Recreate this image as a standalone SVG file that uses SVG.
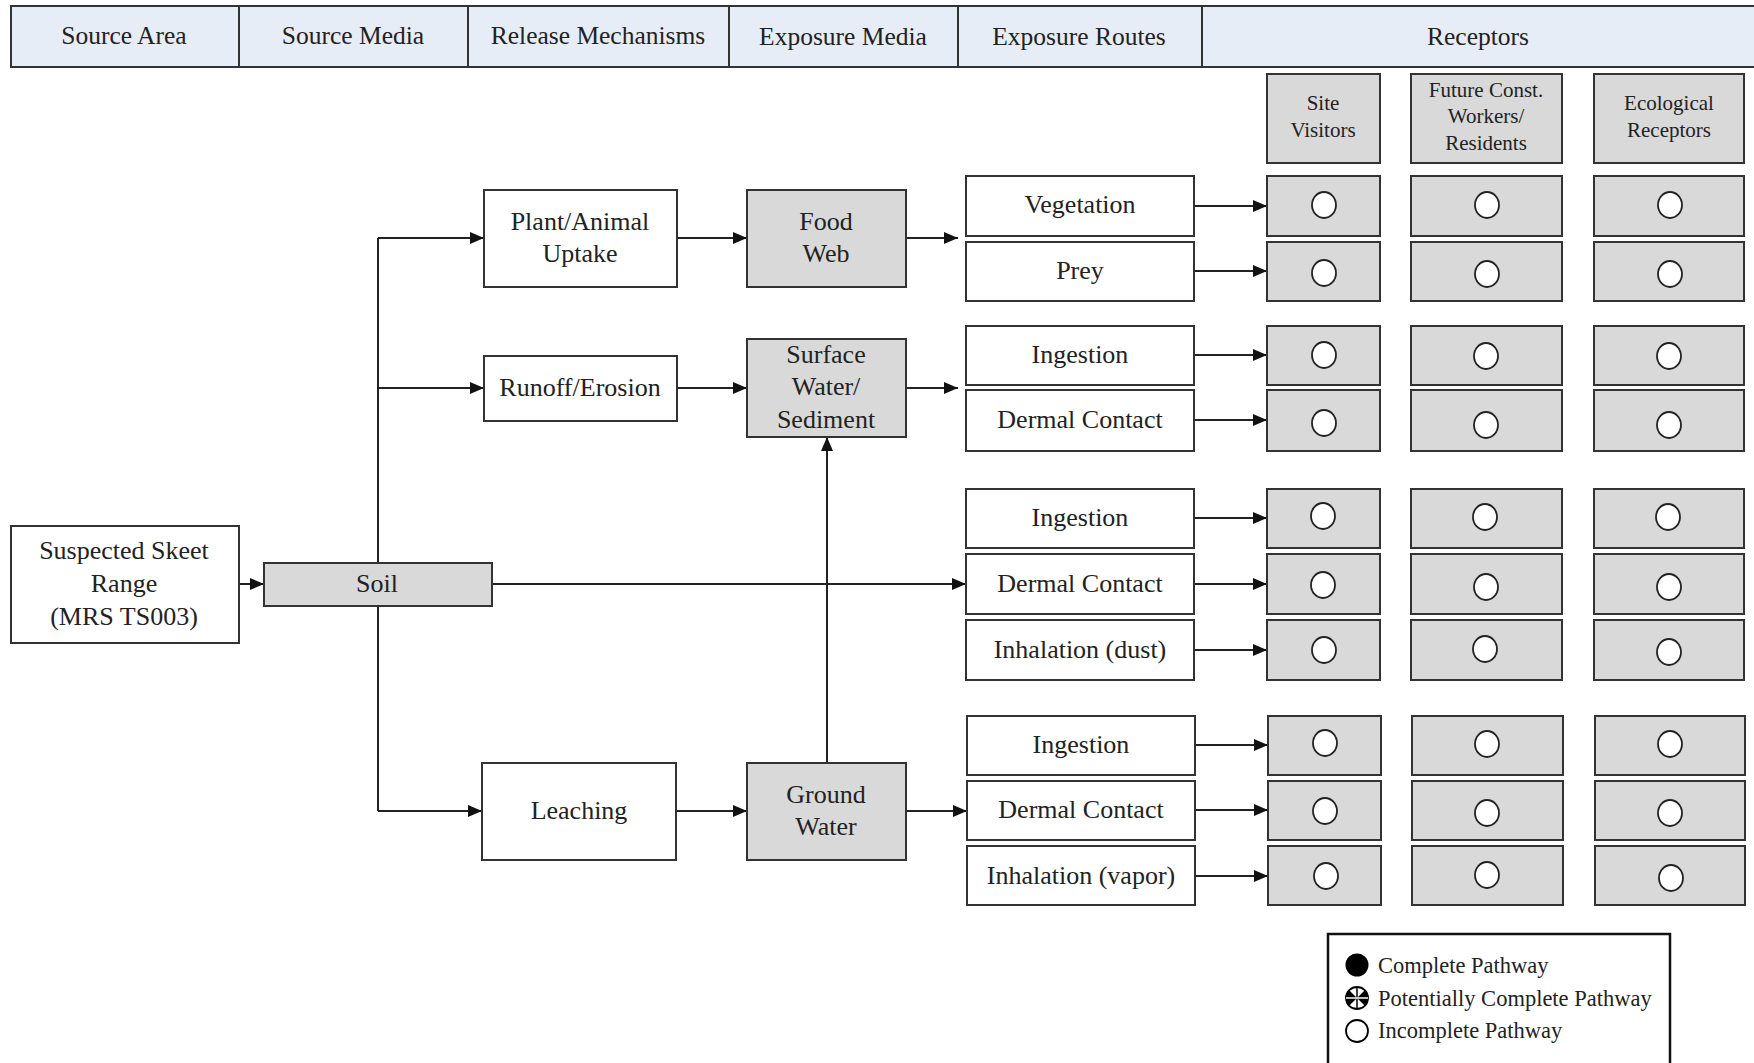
<svg xmlns="http://www.w3.org/2000/svg" width="1754" height="1063" viewBox="0 0 1754 1063">
<style>
text{font-family:"Liberation Serif","Times New Roman",serif;fill:#222;text-anchor:middle;dominant-baseline:central}
.hd{fill:#e7edf7;stroke:#333;stroke-width:2}
.w{fill:#fff;stroke:#333;stroke-width:2}
.g{fill:#d9d9d9;stroke:#333;stroke-width:2}
.t{font-size:26px}
.th{font-size:25.5px}
.tr{font-size:21px}
.tl{font-size:22.5px;text-anchor:start}
.c{fill:#fff;stroke:#222;stroke-width:1.8}
.ln{stroke:#222;stroke-width:2;fill:none}
</style>
<defs>
<marker id="ah" viewBox="0 0 14 12" refX="14" refY="6" markerWidth="14" markerHeight="12" markerUnits="userSpaceOnUse" orient="auto">
<path d="M0,0 L14,6 L0,12 Z" fill="#111"/>
</marker>
</defs>
<rect width="1754" height="1063" fill="#fff"/>

<g id="header">
<rect class="hd" x="11" y="6" width="228" height="61"/>
<rect class="hd" x="239" y="6" width="229" height="61"/>
<rect class="hd" x="468" y="6" width="261" height="61"/>
<rect class="hd" x="729" y="6" width="229" height="61"/>
<rect class="hd" x="958" y="6" width="244" height="61"/>
<rect class="hd" x="1202" y="6" width="560" height="61"/>
<text class="th" x="124" y="35">Source Area</text>
<text class="th" x="353" y="35">Source Media</text>
<text class="th" x="598" y="35">Release Mechanisms</text>
<text class="th" x="843" y="36">Exposure Media</text>
<text class="th" x="1079" y="36">Exposure Routes</text>
<text class="th" x="1478" y="36">Receptors</text>
</g>

<g id="receptor-headers">
<g id="rh-site"><rect class="g" x="1267" y="74" width="113" height="89"/><text class="tr" x="1323" y="103">Site</text><text class="tr" x="1323" y="130">Visitors</text></g>
<g id="rh-future"><rect class="g" x="1411" y="74" width="151" height="89"/><text class="tr" x="1486" y="90">Future Const.</text><text class="tr" x="1486" y="116">Workers/</text><text class="tr" x="1486" y="143">Residents</text></g>
<g id="rh-eco"><rect class="g" x="1594" y="74" width="150" height="89"/><text class="tr" x="1669" y="103">Ecological</text><text class="tr" x="1669" y="130">Receptors</text></g>
</g>

<g id="connectors" class="ln">
<line x1="239" y1="584" x2="264" y2="584" marker-end="url(#ah)"/>
<line x1="378" y1="238" x2="378" y2="811"/>
<line x1="378" y1="238" x2="484" y2="238" marker-end="url(#ah)"/>
<line x1="378" y1="388" x2="484" y2="388" marker-end="url(#ah)"/>
<line x1="378" y1="811" x2="482" y2="811" marker-end="url(#ah)"/>
<line x1="677" y1="238" x2="747" y2="238" marker-end="url(#ah)"/>
<line x1="677" y1="388" x2="747" y2="388" marker-end="url(#ah)"/>
<line x1="676" y1="811" x2="747" y2="811" marker-end="url(#ah)"/>
<line x1="906" y1="238" x2="958" y2="238" marker-end="url(#ah)"/>
<line x1="906" y1="388" x2="958" y2="388" marker-end="url(#ah)"/>
<line x1="906" y1="811" x2="967" y2="811" marker-end="url(#ah)"/>
<line x1="492" y1="584" x2="966" y2="584" marker-end="url(#ah)"/>
<line x1="827" y1="763" x2="827" y2="437" marker-end="url(#ah)"/>
<line x1="1194" y1="206" x2="1267" y2="206" marker-end="url(#ah)"/>
<line x1="1194" y1="271" x2="1267" y2="271" marker-end="url(#ah)"/>
<line x1="1194" y1="355" x2="1267" y2="355" marker-end="url(#ah)"/>
<line x1="1194" y1="420" x2="1267" y2="420" marker-end="url(#ah)"/>
<line x1="1194" y1="518" x2="1267" y2="518" marker-end="url(#ah)"/>
<line x1="1194" y1="584" x2="1267" y2="584" marker-end="url(#ah)"/>
<line x1="1194" y1="650" x2="1267" y2="650" marker-end="url(#ah)"/>
<line x1="1195" y1="745" x2="1268" y2="745" marker-end="url(#ah)"/>
<line x1="1195" y1="810" x2="1268" y2="810" marker-end="url(#ah)"/>
<line x1="1195" y1="876" x2="1268" y2="876" marker-end="url(#ah)"/>
</g>

<g id="source-area"><rect class="w" x="11" y="526" width="228" height="117"/><text class="t" x="124" y="550">Suspected Skeet</text><text class="t" x="124" y="583">Range</text><text class="t" x="124" y="616">(MRS TS003)</text></g>
<g id="soil"><rect class="g" x="264" y="563" width="228" height="43"/><text class="t" x="377" y="583">Soil</text></g>
<g id="plant-uptake"><rect class="w" x="484" y="190" width="193" height="97"/><text class="t" x="580" y="221">Plant/Animal</text><text class="t" x="580" y="253">Uptake</text></g>
<g id="runoff"><rect class="w" x="484" y="356" width="193" height="65"/><text class="t" x="580" y="387">Runoff/Erosion</text></g>
<g id="leaching"><rect class="w" x="482" y="763" width="194" height="97"/><text class="t" x="579" y="810">Leaching</text></g>
<g id="food-web"><rect class="g" x="747" y="190" width="159" height="97"/><text class="t" x="826" y="221">Food</text><text class="t" x="826" y="253">Web</text></g>
<g id="surface-water"><rect class="g" x="747" y="339" width="159" height="98"/><text class="t" x="826" y="354">Surface</text><text class="t" x="826" y="386">Water/</text><text class="t" x="826" y="419">Sediment</text></g>
<g id="ground-water"><rect class="g" x="747" y="763" width="159" height="97"/><text class="t" x="826" y="794">Ground</text><text class="t" x="826" y="826">Water</text></g>

<g id="routes">
<g id="r-veg"><rect class="w" x="966" y="176" width="228" height="60"/><text class="t" x="1080" y="204">Vegetation</text></g>
<g id="r-prey"><rect class="w" x="966" y="242" width="228" height="59"/><text class="t" x="1080" y="270">Prey</text></g>
<g id="r-sw-ing"><rect class="w" x="966" y="326" width="228" height="59"/><text class="t" x="1080" y="354">Ingestion</text></g>
<g id="r-sw-derm"><rect class="w" x="966" y="390" width="228" height="61"/><text class="t" x="1080" y="419">Dermal Contact</text></g>
<g id="r-s-ing"><rect class="w" x="966" y="489" width="228" height="59"/><text class="t" x="1080" y="517">Ingestion</text></g>
<g id="r-s-derm"><rect class="w" x="966" y="554" width="228" height="60"/><text class="t" x="1080" y="583">Dermal Contact</text></g>
<g id="r-s-inh"><rect class="w" x="966" y="620" width="228" height="60"/><text class="t" x="1080" y="649">Inhalation (dust)</text></g>
<g id="r-gw-ing"><rect class="w" x="967" y="716" width="228" height="59"/><text class="t" x="1081" y="744">Ingestion</text></g>
<g id="r-gw-derm"><rect class="w" x="967" y="781" width="228" height="59"/><text class="t" x="1081" y="809">Dermal Contact</text></g>
<g id="r-gw-inh"><rect class="w" x="967" y="846" width="228" height="59"/><text class="t" x="1081" y="875">Inhalation (vapor)</text></g>
</g>

<g id="receptor-cells">
<g id="row1"><rect class="g" x="1267" y="176" width="113" height="60"/><rect class="g" x="1411" y="176" width="151" height="60"/><rect class="g" x="1594" y="176" width="150" height="60"/><ellipse class="c" cx="1324" cy="205" rx="12" ry="13"/><ellipse class="c" cx="1487" cy="205" rx="12" ry="13"/><ellipse class="c" cx="1670" cy="205" rx="12" ry="13"/></g>
<g id="row2"><rect class="g" x="1267" y="242" width="113" height="59"/><rect class="g" x="1411" y="242" width="151" height="59"/><rect class="g" x="1594" y="242" width="150" height="59"/><ellipse class="c" cx="1324" cy="273" rx="12" ry="13"/><ellipse class="c" cx="1487" cy="274" rx="12" ry="13"/><ellipse class="c" cx="1670" cy="274" rx="12" ry="13"/></g>
<g id="row3"><rect class="g" x="1267" y="326" width="113" height="59"/><rect class="g" x="1411" y="326" width="151" height="59"/><rect class="g" x="1594" y="326" width="150" height="59"/><ellipse class="c" cx="1324" cy="355" rx="12" ry="13"/><ellipse class="c" cx="1486" cy="356" rx="12" ry="13"/><ellipse class="c" cx="1669" cy="356" rx="12" ry="13"/></g>
<g id="row4"><rect class="g" x="1267" y="390" width="113" height="61"/><rect class="g" x="1411" y="390" width="151" height="61"/><rect class="g" x="1594" y="390" width="150" height="61"/><ellipse class="c" cx="1324" cy="423" rx="12" ry="13"/><ellipse class="c" cx="1486" cy="425" rx="12" ry="13"/><ellipse class="c" cx="1669" cy="425" rx="12" ry="13"/></g>
<g id="row5"><rect class="g" x="1267" y="489" width="113" height="59"/><rect class="g" x="1411" y="489" width="151" height="59"/><rect class="g" x="1594" y="489" width="150" height="59"/><ellipse class="c" cx="1323" cy="516" rx="12" ry="13"/><ellipse class="c" cx="1485" cy="517" rx="12" ry="13"/><ellipse class="c" cx="1668" cy="517" rx="12" ry="13"/></g>
<g id="row6"><rect class="g" x="1267" y="554" width="113" height="60"/><rect class="g" x="1411" y="554" width="151" height="60"/><rect class="g" x="1594" y="554" width="150" height="60"/><ellipse class="c" cx="1323" cy="585" rx="12" ry="13"/><ellipse class="c" cx="1486" cy="587" rx="12" ry="13"/><ellipse class="c" cx="1669" cy="587" rx="12" ry="13"/></g>
<g id="row7"><rect class="g" x="1267" y="620" width="113" height="60"/><rect class="g" x="1411" y="620" width="151" height="60"/><rect class="g" x="1594" y="620" width="150" height="60"/><ellipse class="c" cx="1324" cy="650" rx="12" ry="13"/><ellipse class="c" cx="1485" cy="649" rx="12" ry="13"/><ellipse class="c" cx="1669" cy="652" rx="12" ry="13"/></g>
<g id="row8"><rect class="g" x="1268" y="716" width="113" height="59"/><rect class="g" x="1412" y="716" width="151" height="59"/><rect class="g" x="1595" y="716" width="150" height="59"/><ellipse class="c" cx="1325" cy="743" rx="12" ry="13"/><ellipse class="c" cx="1487" cy="744" rx="12" ry="13"/><ellipse class="c" cx="1670" cy="744" rx="12" ry="13"/></g>
<g id="row9"><rect class="g" x="1268" y="781" width="113" height="59"/><rect class="g" x="1412" y="781" width="151" height="59"/><rect class="g" x="1595" y="781" width="150" height="59"/><ellipse class="c" cx="1325" cy="811" rx="12" ry="13"/><ellipse class="c" cx="1487" cy="813" rx="12" ry="13"/><ellipse class="c" cx="1670" cy="813" rx="12" ry="13"/></g>
<g id="row10"><rect class="g" x="1268" y="846" width="113" height="59"/><rect class="g" x="1412" y="846" width="151" height="59"/><rect class="g" x="1595" y="846" width="150" height="59"/><ellipse class="c" cx="1326" cy="876" rx="12" ry="13"/><ellipse class="c" cx="1487" cy="875" rx="12" ry="13"/><ellipse class="c" cx="1671" cy="878" rx="12" ry="13"/></g>
</g>

<g id="legend">
<rect x="1328" y="934" width="342" height="140" fill="#fff" stroke="#111" stroke-width="2.5"/>
<circle cx="1357" cy="965" r="11.5" fill="#000"/>
<text class="tl" x="1378" y="965">Complete Pathway</text>
<circle cx="1357" cy="998" r="11" fill="#fff" stroke="#000" stroke-width="1.8"/>
<path d="M1357,998 L1349.2,990.2 A11,11 0 0 0 1349.2,1005.8 Z M1357,998 L1364.8,990.2 A11,11 0 0 1 1364.8,1005.8 Z" fill="#000"/>
<line x1="1357" y1="987" x2="1357" y2="1009" stroke="#000" stroke-width="1.5"/>
<line x1="1346" y1="998" x2="1368" y2="998" stroke="#fff" stroke-width="1.5"/>
<text class="tl" x="1378" y="998">Potentially Complete Pathway</text>
<circle cx="1357" cy="1031" r="11" fill="#fff" stroke="#000" stroke-width="1.8"/>
<text class="tl" x="1378" y="1030">Incomplete Pathway</text>
</g>
</svg>
